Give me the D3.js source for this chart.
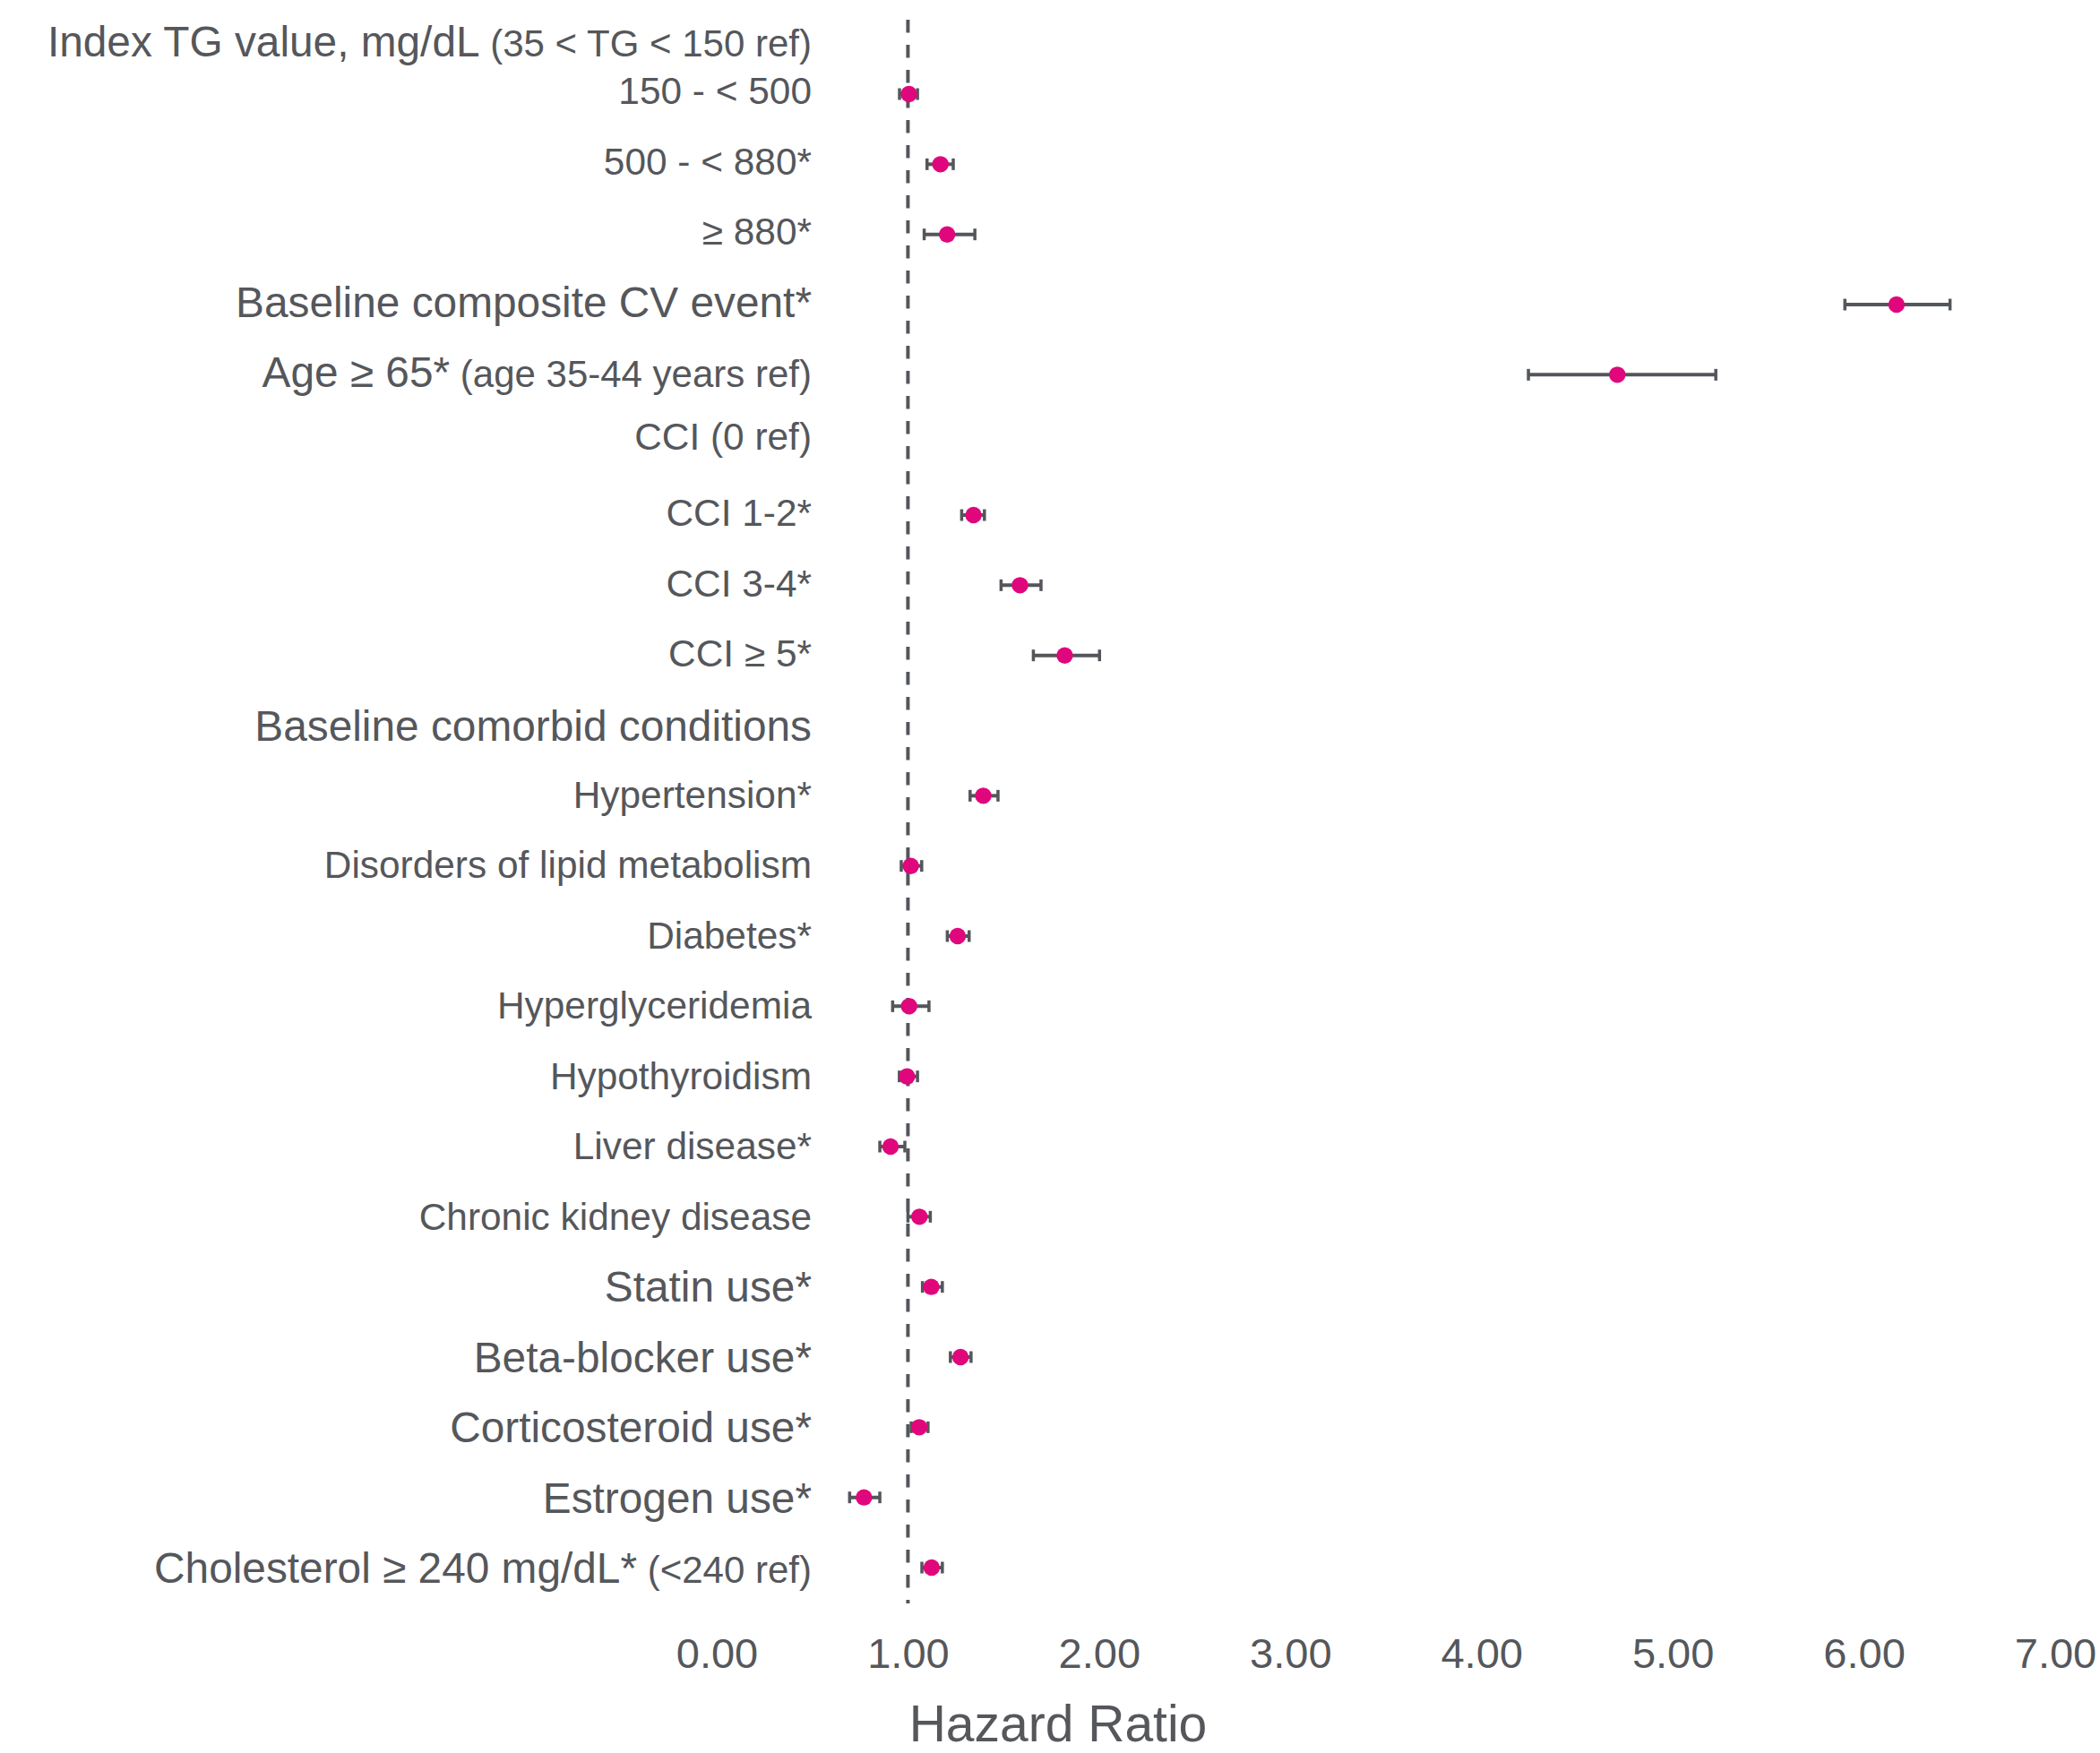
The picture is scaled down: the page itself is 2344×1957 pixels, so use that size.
<!DOCTYPE html>
<html>
<head>
<meta charset="utf-8">
<script src="https://cdn.jsdelivr.net/npm/d3@7"></script>
<style>
  body { margin: 0; background: #fff; }
  svg { display: block; font-family: "Liberation Sans", Arial, sans-serif; }
</style>
</head>
<body>
<script>
// rows, top to bottom
var labels = ["Index TG value, mg/dL", "150 - < 500", "500 - < 880*", "\u2265 880*",
  "Baseline composite CV event*", "Age \u2265 65*", "CCI (0 ref)", "CCI 1-2*", "CCI 3-4*",
  "CCI \u2265 5*", "Baseline comorbid conditions", "Hypertension*", "Disorders of lipid metabolism",
  "Diabetes*", "Hyperglyceridemia", "Hypothyroidism", "Liver disease*", "Chronic kidney disease",
  "Statin use*", "Beta-blocker use*", "Corticosteroid use*", "Estrogen use*",
  "Cholesterol \u2265 240 mg/dL*"];
var notes = ["(35 < TG < 150 ref)", "", "", "", "", "(age 35-44 years ref)", "", "", "", "", "",
  "", "", "", "", "", "", "", "", "", "", "", "(<240 ref)"];
// "main" = top-level variable, "sub" = level / condition
var level = ["main", "sub", "sub", "sub", "main", "main", "sub", "sub", "sub", "sub", "main",
  "sub", "sub", "sub", "sub", "sub", "sub", "sub", "main", "main", "main", "main", "main"];

var hr    = [null, 1.005, 1.17, 1.205, 6.17, 4.71, null, 1.343, 1.586, 1.82, null, 1.394, 1.015,
  1.26, 1.006, 0.995, 0.909, 1.06, 1.122, 1.275, 1.059, 0.77, 1.124];
var lower = [null, 0.956, 1.10, 1.085, 5.90, 4.245, null, 1.281, 1.487, 1.656, null, 1.325, 0.965,
  1.206, 0.92, 0.955, 0.853, 1.00, 1.076, 1.222, 1.017, 0.695, 1.073];
var upper = [null, 1.05, 1.237, 1.35, 6.45, 5.225, null, 1.40, 1.696, 2.002, null, 1.471, 1.072,
  1.32, 1.11, 1.05, 0.984, 1.117, 1.18, 1.33, 1.105, 0.853, 1.18];

var ticks = [0, 1, 2, 3, 4, 5, 6, 7];
var refValue = 1;

var W = 2344, H = 1957;
var textColor = "#55575b", barColor = "#53565a", dotColor = "#e0077d";

var rows = labels.map(function(d, i) {
  return { label: d, note: notes[i], level: level[i], hr: hr[i], lo: lower[i], hi: upper[i] };
});

var svg = d3.select("body").append("svg").attr("width", W).attr("height", H);

var x = d3.scaleLinear().domain([0, 7]).range([800, 2294]);
var y = d3.scalePoint().domain(labels).range([26.7, 1750]);

// label tweaks for the heading rows
var labelShift = { "Index TG value, mg/dL": 36, "CCI (0 ref)": 5, "Baseline comorbid conditions": 17 };

var lab = svg.append("g").selectAll("text")
  .data(rows)
  .enter().append("text")
    .attr("x", 906)
    .attr("y", function(d, i) {
      var s = labelShift[d.label];
      if (s === undefined) s = (d.level == "main" ? 13 : 11) + i * 0.2;
      return y(d.label) + s;
    })
    .attr("text-anchor", "end")
    .attr("fill", textColor);
lab.append("tspan")
  .attr("font-size", function(d) { return d.level == "main" ? 47.8 : 42.4; })
  .text(function(d) { return d.label; });
lab.filter(function(d) { return d.note; }).append("tspan")
  .attr("font-size", 42)
  .text(function(d) { return " " + d.note; });

// reference line at HR = 1
svg.append("line")
  .attr("x1", x(refValue)).attr("x2", x(refValue))
  .attr("y1", 22).attr("y2", 1790)
  .attr("stroke", barColor)
  .attr("stroke-width", 4)
  .attr("stroke-dasharray", "14.5,13.5");

var pts = rows.filter(function(d) { return d.hr != null; });

var g = svg.append("g").selectAll("g")
  .data(pts)
  .enter().append("g");

g.append("line")
  .attr("x1", function(d) { return x(d.lo); })
  .attr("x2", function(d) { return x(d.hi); })
  .attr("y1", function(d) { return y(d.label); })
  .attr("y2", function(d) { return y(d.label); })
  .attr("stroke", barColor)
  .attr("stroke-width", 4);

g.selectAll("line.cap")
  .data(function(d) { return [[d.lo, d.label], [d.hi, d.label]]; })
  .enter().append("line")
    .attr("class", "cap")
    .attr("x1", function(d) { return x(d[0]); })
    .attr("x2", function(d) { return x(d[0]); })
    .attr("y1", function(d) { return y(d[1]) - 6.5; })
    .attr("y2", function(d) { return y(d[1]) + 6.5; })
    .attr("stroke", barColor)
    .attr("stroke-width", 3.5);

g.append("circle")
  .attr("cx", function(d) { return x(d.hr); })
  .attr("cy", function(d) { return y(d.label); })
  .attr("r", 9.2)
  .attr("fill", dotColor);

// x axis, labels only
var axis = svg.append("g")
  .attr("transform", "translate(0,1815)")
  .call(d3.axisBottom(x).tickValues(ticks).tickSize(0).tickPadding(0)
    .tickFormat(d3.format(".2f")));
axis.select(".domain").remove();
axis.selectAll("text")
  .attr("font-size", 47)
  .attr("font-family", "Liberation Sans, Arial, sans-serif")
  .attr("fill", textColor)
  .attr("dy", "1em");

svg.append("text")
  .attr("x", 1181)
  .attr("y", 1944)
  .attr("text-anchor", "middle")
  .attr("font-size", 57)
  .attr("fill", textColor)
  .text("Hazard Ratio");
</script>
</body>
</html>
